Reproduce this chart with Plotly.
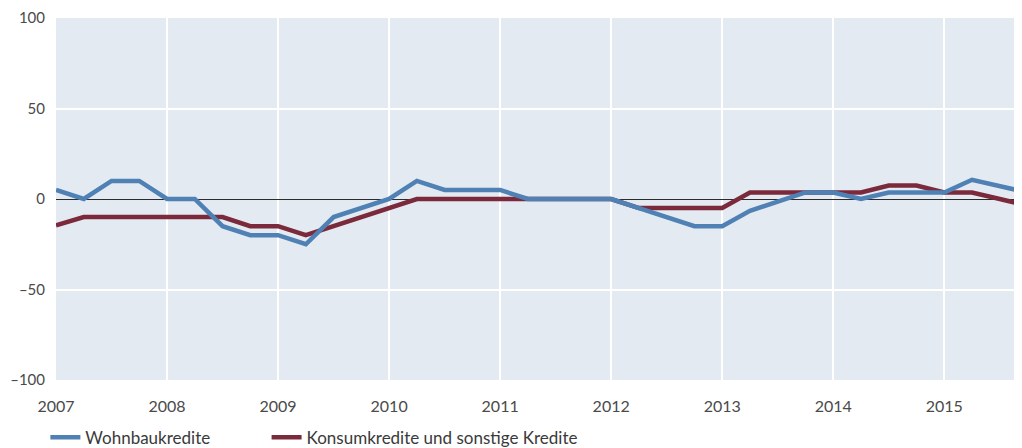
import plotly.graph_objects as go

# quarterly observations, 2007 Q1 .. 2015 Q4
quarters = [2007 + i * 0.25 for i in range(36)]

wohnbau = [5, 0, 10, 10, 0, 0, -15, -20,
           -20, -25, -10, -5, 0, 10, 5, 5,
           5, 0, 0, 0, 0, -5, -10, -15,
           -15, -6.5, -1.5, 3.6, 3.6, 0, 3.6, 3.6,
           3.6, 10.6, 7.1, 3.6]

konsum = [-14.6, -10, -10, -10, -10, -10, -10, -15,
          -15, -20, -15, -10, -5, 0, 0, 0,
          0, 0, 0, 0, 0, -5, -5, -5,
          -5, 3.6, 3.6, 3.6, 3.6, 3.6, 7.4, 7.4,
          3.6, 3.6, 0, -3.6]

year_ticks = list(range(2007, 2016))
y_ticks = [-100, -50, 0, 50, 100]

BLUE = "#4f81b4"
RED = "#7b2a3c"

fig = go.Figure()
# red first so the blue line is drawn on top
fig.add_trace(go.Scatter(x=quarters, y=konsum, mode="lines",
                         name="Konsumkredite und sonstige Kredite",
                         line=dict(color=RED, width=4.5), legend="legend2"))
fig.add_trace(go.Scatter(x=quarters, y=wohnbau, mode="lines", name="Wohnbaukredite",
                         line=dict(color=BLUE, width=4.5), legend="legend"))

leg_style = dict(orientation="h", xanchor="left", y=-0.11, yanchor="top",
                 font=dict(size=17, color="#3a3a3a"), itemwidth=30,
                 bgcolor="rgba(0,0,0,0)")

# page body has an 8px margin, so the figure is a bit smaller than the window
fig.update_layout(
    width=1014, height=440,
    margin=dict(l=48, r=0, t=10, b=68, autoexpand=False),
    paper_bgcolor="white",
    plot_bgcolor="#e4eaf2",
    font=dict(family="Lato, Open Sans, sans-serif", size=16, color="#4a4a4a"),
    showlegend=True,
    legend=dict(x=-0.011, **leg_style),
    legend2=dict(x=0.218, **leg_style),
    xaxis=dict(range=[2007, 2015.70], tickvals=year_ticks, ticktext=[str(y) for y in year_ticks],
               showgrid=True, gridcolor="white", gridwidth=2, zeroline=False,
               ticks="", showline=False, ticklabelstandoff=15, automargin=False),
    yaxis=dict(range=[-100, 100], tickvals=y_ticks,
               ticktext=["\u2013100", "\u201350", "0", "50", "100"],
               tickfont=dict(size=15),
               showgrid=True, gridcolor="white", gridwidth=2,
               zeroline=True, zerolinecolor="#2b2b2b", zerolinewidth=1,
               ticks="", showline=False, ticklabelstandoff=10, automargin=False),
)

fig.write_html("out.html")
